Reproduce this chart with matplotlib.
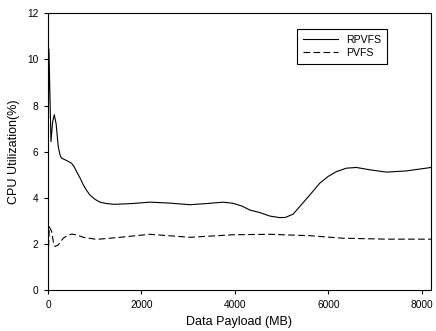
import matplotlib
matplotlib.use("Agg")
import matplotlib.pyplot as plt

plt.rcParams['font.family'] = ['Liberation Sans', 'DejaVu Sans']

rp_x = [0, 21, 64, 100, 135, 175, 220, 260, 293, 400, 506, 560, 613, 690, 755, 830, 897,
        1000, 1111, 1250, 1396, 1468, 1800,
        2180, 2600, 3035, 3400, 3747, 3960, 4150, 4317, 4530, 4744, 4958, 5080, 5171, 5243,
        5385, 5600, 5813, 5991, 6169, 6383, 6597, 6881,
        7238, 7665, 8192]
rp_y = [5.0, 10.44, 6.44, 7.3, 7.6, 7.2, 6.22, 5.85, 5.72, 5.62, 5.5, 5.35, 5.14, 4.85, 4.57, 4.32, 4.13,
        3.95, 3.82, 3.76, 3.73, 3.73, 3.76,
        3.82, 3.78, 3.71, 3.76, 3.82, 3.77, 3.65, 3.48, 3.37, 3.22, 3.15, 3.16, 3.24, 3.30,
        3.63, 4.13, 4.64, 4.93, 5.14, 5.29, 5.32, 5.22,
        5.12, 5.17, 5.32]

pv_x = [0, 28, 79, 115, 150, 220, 327, 420, 506, 620, 755, 1040, 1539, 2180, 3035, 3960,
        4744, 5600, 6310, 7238, 8192]
pv_y = [1.03, 2.76, 2.55, 2.1, 1.9, 1.97, 2.26, 2.38, 2.44, 2.40, 2.30, 2.21, 2.30, 2.43, 2.30, 2.41,
        2.43, 2.37, 2.26, 2.22, 2.22]

x_ticks = [0, 2000, 4000, 6000, 8000]
y_ticks = [0, 2, 4, 6, 8, 10, 12]

fig = plt.figure(figsize=(4.36, 3.31), dpi=100)
ax = fig.add_axes([0.110, 0.1224, 0.8785, 0.8383])
ax.plot(rp_x, rp_y, color='black', lw=0.8, label='RPVFS')
ax.plot(pv_x, pv_y, color='black', lw=0.8, dashes=(6, 3), label='PVFS')
ax.set_xlim(0, 8192)
ax.set_ylim(0, 12)
ax.set_xticks(x_ticks)
ax.set_yticks(y_ticks)
ax.tick_params(direction='out', length=3, width=0.8, labelsize=7.3, top=False, right=False, pad=4)
for s in ax.spines.values():
    s.set_linewidth(0.8)
ax.set_xlabel('Data Payload (MB)', fontsize=9, labelpad=4)
ax.set_ylabel('CPU Utilization(%)', fontsize=9, labelpad=5)
leg = ax.legend(loc='upper left', bbox_to_anchor=(0.650, 0.942), fontsize=7.6,
                frameon=True, fancybox=False, edgecolor='black', framealpha=1,
                handlelength=3.3, handletextpad=0.8, borderpad=0.55, labelspacing=0.28,
                borderaxespad=0)
leg.get_frame().set_linewidth(0.8)
fig.savefig('out.png', dpi=100)
